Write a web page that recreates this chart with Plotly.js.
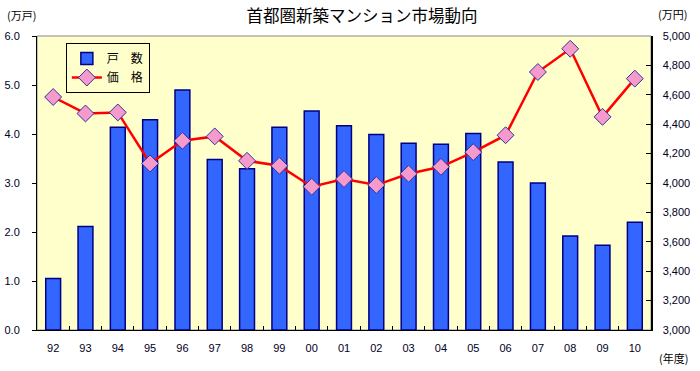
<!DOCTYPE html>
<html>
<head>
<meta charset="utf-8">
<script src="https://cdn.plot.ly/plotly-3.0.1.min.js"></script>
<style>html,body{margin:0;padding:0;background:#fff;}#chart{width:700px;height:371px;}</style>
</head>
<body>
<div id="chart"></div>
<script>
const years = ['92','93','94','95','96','97','98','99','00','01','02','03','04','05','06','07','08','09','10'];
const units = [1.05,2.11,4.14,4.29,4.90,3.48,3.29,4.14,4.47,4.17,3.99,3.81,3.79,4.01,3.43,3.00,1.92,1.73,2.20];
const prices = [4585,4473,4480,4133,4287,4317,4151,4117,3975,4027,3986,4063,4110,4210,4325,4755,4913,4450,4710];
const leftTicks = [0,1,2,3,4,5,6];
const rightTicks = [3000,3200,3400,3600,3800,4000,4200,4400,4600,4800,5000];

const jp = '"Noto Sans CJK JP", sans-serif';
const num = '"Liberation Sans", Arial, sans-serif';

const traces = [
  {
    type: 'bar', name: '戸　数', x: years, y: units, yaxis: 'y',
    width: 0.46,
    marker: {color: '#3366FF', line: {color: '#000080', width: 1.5}}
  },
  {
    type: 'scatter', mode: 'lines+markers', name: '価　格', x: years, y: prices, yaxis: 'y2',
    line: {color: '#FF0000', width: 2.5},
    marker: {symbol: 'diamond', size: 13, color: '#F59ACD', line: {color: '#333399', width: 1}}
  }
];

const layout = {
  width: 700, height: 371,
  margin: {l: 37, r: 49, t: 36, b: 41, pad: 0},
  paper_bgcolor: '#FFFFFF',
  plot_bgcolor: '#FFFFCC',
  showlegend: true,
  title: {text: '首都圏新築マンション市場動向', font: {family: jp, size: 16.5, color: '#000000'},
          x: 0.517, xanchor: 'center', y: 0.955, yanchor: 'middle'},
  xaxis: {
    type: 'category', range: [-0.5, 18.5], autorange: false,
    showgrid: false, zeroline: false,
    showline: true, linecolor: '#000000', linewidth: 1,
    ticks: 'inside', ticklen: 4, tickcolor: '#000000', tickson: 'boundaries',
    tickfont: {family: num, size: 11, color: '#000022'},
    ticklabelstandoff: 8
  },
  yaxis: {
    range: [0, 6], autorange: false, tickvals: leftTicks, tickformat: '.1f',
    showgrid: false, zeroline: false,
    showline: true, linecolor: '#000000', linewidth: 1,
    ticks: 'outside', ticklen: 4, tickcolor: '#000000',
    tickfont: {family: num, size: 11, color: '#000022'},
    ticklabelstandoff: 10
  },
  yaxis2: {
    range: [3000, 5000], autorange: false, tickvals: rightTicks, tickformat: ',d',
    overlaying: 'y', side: 'right', showgrid: false, zeroline: false,
    showline: true, linecolor: '#000000', linewidth: 1.5,
    ticks: 'inside', ticklen: 5, tickcolor: '#000000',
    tickfont: {family: num, size: 11, color: '#000022'},
    ticklabelstandoff: 8
  },
  legend: {
    x: 0.047, y: 0.976, xanchor: 'left', yanchor: 'top',
    bgcolor: '#FFFFCC', bordercolor: '#000000', borderwidth: 1,
    font: {family: jp, size: 12, color: '#000000'},
    traceorder: 'normal', tracegroupgap: 0, itemwidth: 30
  },
  shapes: [
    {type: 'rect', xref: 'paper', yref: 'paper', x0: 0, x1: 1, y0: 0, y1: 1,
     line: {color: '#888888', width: 1}, layer: 'below'}
  ],
  annotations: [
    {text: '(万戸)', xref: 'paper', yref: 'paper', x: -0.052, y: 1.07, xanchor: 'left', yanchor: 'middle',
     showarrow: false, font: {family: jp, size: 11, color: '#000000'}},
    {text: '(万円)', xref: 'paper', yref: 'paper', x: 1.008, y: 1.075, xanchor: 'left', yanchor: 'middle',
     showarrow: false, font: {family: jp, size: 11, color: '#000000'}},
    {text: '(年度)', xref: 'paper', yref: 'paper', x: 1.01, y: -0.095, xanchor: 'left', yanchor: 'middle',
     showarrow: false, font: {family: jp, size: 11, color: '#000000'}}
  ]
};

Plotly.newPlot('chart', traces, layout, {displayModeBar: false, staticPlot: true});
</script>
</body>
</html>
